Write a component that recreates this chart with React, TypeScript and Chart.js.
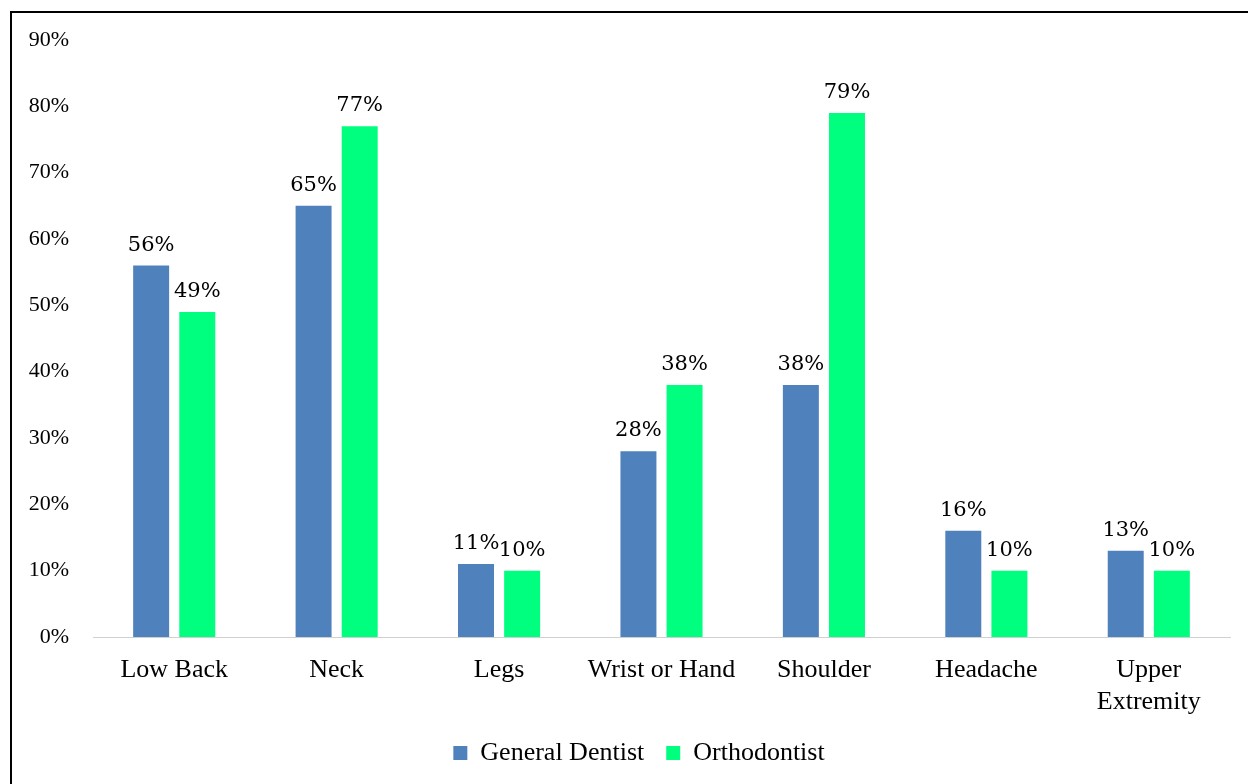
import React, { useEffect, useRef } from "react";
import { Chart, registerables } from "chart.js";

Chart.register(...registerables);

const categories: (string | string[])[] = [
  "Low Back",
  "Neck",
  "Legs",
  "Wrist or Hand",
  "Shoulder",
  "Headache",
  ["Upper", "Extremity"],
];
const generalDentist = [56, 65, 11, 28, 38, 16, 13];
const orthodontist = [49, 77, 10, 38, 79, 10, 10];
const yTicksMax = 90;
const yTickStep = 10;

const dataLabelPlugin = {
  id: "dataLabels",
  afterDatasetsDraw(chart: any) {
    const ctx = chart.ctx;
    ctx.save();
    ctx.font = "21px 'DejaVu Serif'";
    ctx.fillStyle = "#000";
    ctx.textAlign = "center";
    ctx.textBaseline = "alphabetic";
    chart.data.datasets.forEach((ds: any, i: number) => {
      const meta = chart.getDatasetMeta(i);
      meta.data.forEach((bar: any, j: number) => {
        ctx.fillText(ds.data[j] + "%", bar.x, bar.y - 15);
      });
    });
    ctx.restore();
  },
};

const legendShiftPlugin = {
  id: "legendShift",
  beforeDraw(chart: any) {
    if (chart.legend) chart.legend.left = 48;
  },
};

export default function App() {
  const canvasRef = useRef<HTMLCanvasElement>(null);

  useEffect(() => {
    const chart = new Chart(canvasRef.current!, {
      type: "bar",
      data: {
        labels: categories,
        datasets: [
          {
            label: "General Dentist",
            data: generalDentist,
            backgroundColor: "#4F81BD",
            categoryPercentage: 0.568,
            barPercentage: 0.78,
          },
          {
            label: "Orthodontist",
            data: orthodontist,
            backgroundColor: "#00FF7F",
            categoryPercentage: 0.568,
            barPercentage: 0.78,
          },
        ],
      },
      options: {
        animation: false,
        responsive: true,
        maintainAspectRatio: false,
        layout: { padding: { left: 0, top: 40, right: 18, bottom: 8 } },
        plugins: {
          legend: {
            position: "bottom",
            labels: {
              font: { family: "'Liberation Serif'", size: 26 },
              color: "#000",
              boxWidth: 14,
              boxHeight: 14,
              padding: 22,
            },
          },
          tooltip: { enabled: false },
        },
        scales: {
          x: {
            grid: { display: false },
            border: { color: "#d0d0d0", width: 1 },
            ticks: {
              font: { family: "'Liberation Serif'", size: 26 },
              color: "#000",
              padding: 10,
              maxRotation: 0,
              autoSkip: false,
            },
            afterFit(scale: any) {
              scale.height = 81;
            },
          },
          y: {
            min: 0,
            max: yTicksMax,
            grid: { display: false },
            border: { display: false },
            ticks: {
              stepSize: yTickStep,
              font: { family: "'Liberation Serif'", size: 22 },
              color: "#000",
              padding: 16,
              callback: (v: any) => v + "%",
            },
            afterFit(scale: any) {
              scale.width = 93;
            },
          },
        },
      },
      plugins: [dataLabelPlugin, legendShiftPlugin],
    });
    return () => chart.destroy();
  }, []);

  return (
    <div
      style={{
        position: "fixed",
        left: 0,
        top: 0,
        width: 1248,
        height: 784,
        background: "#fff",
      }}
    >
      <canvas ref={canvasRef} />
      <div
        style={{
          position: "absolute",
          left: 10,
          top: 11,
          right: 0,
          bottom: 0,
          borderLeft: "2px solid #000",
          borderTop: "2px solid #000",
          pointerEvents: "none",
        }}
      />
    </div>
  );
}
